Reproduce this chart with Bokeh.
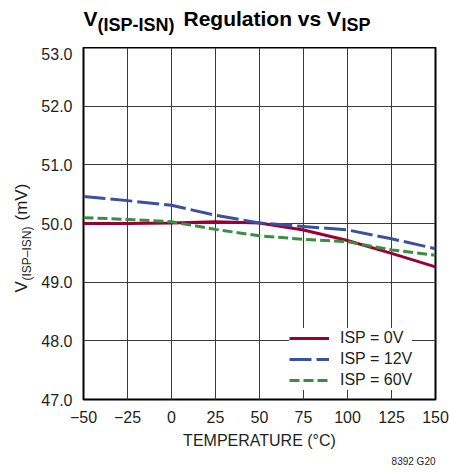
import math
from bokeh.plotting import figure
from bokeh.layouts import column, row
from bokeh.models import FixedTicker, NumeralTickFormatter, Title, Range1d
from bokeh.core.properties import value
from bokeh.embed import file_html
from bokeh.resources import INLINE

temps = [-50, -25, 0, 25, 50, 75, 100, 125, 150]
isp_0v = [50.00, 50.00, 50.01, 50.03, 50.01, 49.89, 49.71, 49.49, 49.26]
isp_12v = [50.46, 50.39, 50.31, 50.14, 50.01, 49.95, 49.89, 49.74, 49.57]
isp_60v = [50.10, 50.07, 50.03, 49.90, 49.79, 49.73, 49.69, 49.55, 49.46]

x_ticks = [-50, -25, 0, 25, 50, 75, 100, 125, 150]
x_tick_labels = ["\u221250", "\u221225", "0", "25", "50", "75", "100", "125", "150"]
y_ticks = [47, 48, 49, 50, 51, 52, 53]

FONT = "Liberation Sans"
TXT = "#231f20"

W, H = 449, 472
TOP = 47          # height of title strip
YLAB_W = 38       # width of y-label strip
FRAME_L, FRAME_R, FRAME_B = 83, 435, 399


def blank(width, height):
    f = figure(width=width, height=height, x_range=Range1d(0, width), y_range=Range1d(0, height),
               x_axis_type=None, y_axis_type=None, output_backend="svg", toolbar_location=None,
               min_border_left=0, min_border_right=0, min_border_top=0, min_border_bottom=0,
               frame_align=False, title=None)
    f.outline_line_color = None
    f.background_fill_color = "white"
    f.border_fill_color = "white"
    return f


# ---- title strip (page coords: x, y from top) ----
tf = blank(W, TOP)

def ttext(txt, x, y, size, bold=True):
    tf.text(x=[x], y=[TOP - y], text=[txt], text_font=value(FONT), text_font_size=size,
            text_font_style="bold" if bold else "normal", text_color="black",
            text_baseline="alphabetic", text_align="left")

ttext("V", 83, 18, "21px")
ttext("(ISP-ISN)", 97, 24, "18px")
ttext("Regulation vs V", 183, 18, "21px")
ttext("ISP", 341, 24, "18px")

# ---- y label strip ----
yf = blank(YLAB_W, H - TOP)

def ytext(txt, x, y, size):
    yf.text(x=[x], y=[H - y], text=[txt], text_font=value(FONT), text_font_size=size,
            text_color=TXT, text_baseline="alphabetic", text_align="left", angle=math.pi / 2)

ytext("V", 21, 292, "17px")
ytext("(ISP\u2013ISN)", 26, 280, "12px")
ytext("(mV)", 21, 220, "17px")

# ---- main plot ----
PW, PH = W - YLAB_W, H - TOP
p = figure(width=PW, height=PH, x_range=(-50, 150), y_range=(47, 53),
           output_backend="svg", toolbar_location=None, frame_align=False, title=None,
           min_border_left=FRAME_L - YLAB_W, min_border_right=W - FRAME_R,
           min_border_top=0, min_border_bottom=H - FRAME_B)
p.background_fill_color = "white"
p.border_fill_color = "white"
p.outline_line_color = "black"
p.outline_line_width = 2

p.xaxis.ticker = FixedTicker(ticks=x_ticks)
p.yaxis.ticker = FixedTicker(ticks=y_ticks)
p.xaxis.major_label_overrides = {t: l for t, l in zip(x_ticks, x_tick_labels)}
p.yaxis.formatter = NumeralTickFormatter(format="0.0")
for ax in (p.xaxis[0], p.yaxis[0]):
    ax.axis_line_color = None
    ax.major_tick_line_color = None
    ax.minor_tick_line_color = None
    ax.major_tick_in = 0
    ax.major_tick_out = 0
    ax.major_label_text_font = FONT
    ax.major_label_text_font_size = "16px"
    ax.major_label_text_color = TXT
p.yaxis.major_label_standoff = 11
p.xaxis.major_label_standoff = 11
p.xaxis.axis_label = "TEMPERATURE (\u00b0C)"
p.xaxis.axis_label_text_font = FONT
p.xaxis.axis_label_text_font_size = "16px"
p.xaxis.axis_label_text_font_style = "normal"
p.xaxis.axis_label_text_color = TXT
p.xaxis.axis_label_standoff = 6

p.xgrid.ticker = FixedTicker(ticks=x_ticks)
p.ygrid.ticker = FixedTicker(ticks=y_ticks)
p.grid.grid_line_color = "#3a3a3a"
p.grid.grid_line_width = 1

p.line(temps, isp_0v, line_color="#9b0033", line_width=3, legend_label="ISP = 0V")
p.line(temps, isp_12v, line_color="#3c50a0", line_width=3, line_dash="22 5", legend_label="ISP = 12V")
p.line(temps, isp_60v, line_color="#3c8c46", line_width=3, line_dash="10 4", legend_label="ISP = 60V")

lg = p.legend[0]
lg.location = (206, 9)
lg.border_line_color = None
lg.background_fill_color = "white"
lg.background_fill_alpha = 1
lg.label_text_font = FONT
lg.label_text_font_size = "16px"
lg.label_text_color = TXT
lg.glyph_width = 40
lg.glyph_height = 20
lg.label_height = 20
lg.label_standoff = 11
lg.padding = 6
lg.spacing = 1
lg.margin = 0

p.add_layout(Title(text="8392 G20", align="right", text_font=FONT, text_font_size="10px",
                   text_font_style="normal", text_color=TXT, standoff=4), "below")

layout = column(tf, row(yf, p, spacing=0), spacing=0)
open("out.html", "w").write(file_html(layout, INLINE))
